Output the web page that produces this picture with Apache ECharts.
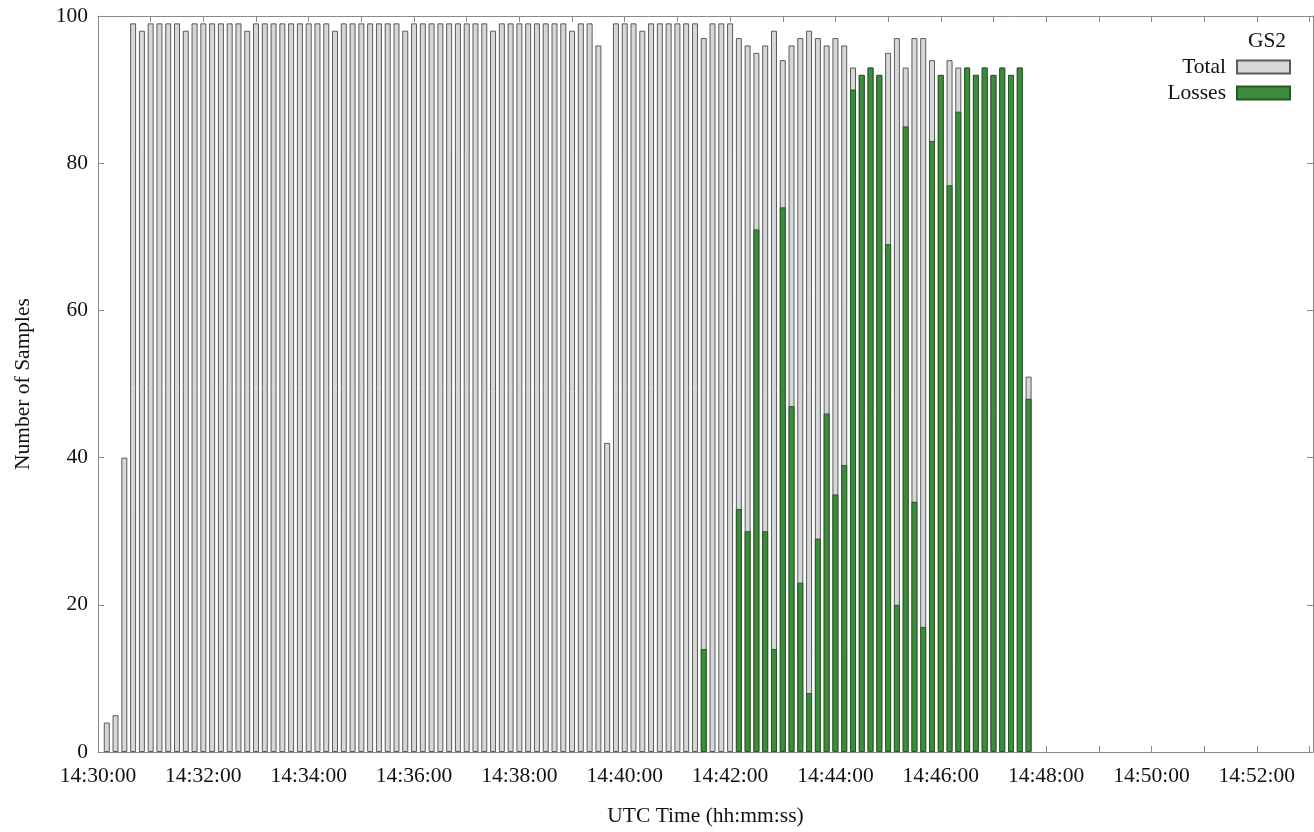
<!DOCTYPE html>
<html>
<head>
<meta charset="utf-8">
<script src="https://cdn.jsdelivr.net/npm/echarts@6/dist/echarts.min.js"></script>
<style>
  html, body { margin: 0; padding: 0; background: #ffffff; }
  #chart { width: 1314px; height: 832px; }
</style>
</head>
<body>
<div id="chart"></div>
<script>
// ---- Data ----
const times = [
  '14:30:10','14:30:20','14:30:30','14:30:40','14:30:50',
  '14:31:00','14:31:10','14:31:20','14:31:30','14:31:40','14:31:50',
  '14:32:00','14:32:10','14:32:20','14:32:30','14:32:40','14:32:50',
  '14:33:00','14:33:10','14:33:20','14:33:30','14:33:40','14:33:50',
  '14:34:00','14:34:10','14:34:20','14:34:30','14:34:40','14:34:50',
  '14:35:00','14:35:10','14:35:20','14:35:30','14:35:40','14:35:50',
  '14:36:00','14:36:10','14:36:20','14:36:30','14:36:40','14:36:50',
  '14:37:00','14:37:10','14:37:20','14:37:30','14:37:40','14:37:50',
  '14:38:00','14:38:10','14:38:20','14:38:30','14:38:40','14:38:50',
  '14:39:00','14:39:10','14:39:20','14:39:30','14:39:40','14:39:50',
  '14:40:00','14:40:10','14:40:20','14:40:30','14:40:40','14:40:50',
  '14:41:00','14:41:10','14:41:20','14:41:30','14:41:40','14:41:50',
  '14:42:00','14:42:10','14:42:20','14:42:30','14:42:40','14:42:50',
  '14:43:00','14:43:10','14:43:20','14:43:30','14:43:40','14:43:50',
  '14:44:00','14:44:10','14:44:20','14:44:30','14:44:40','14:44:50',
  '14:45:00','14:45:10','14:45:20','14:45:30','14:45:40','14:45:50',
  '14:46:00','14:46:10','14:46:20','14:46:30','14:46:40','14:46:50',
  '14:47:00','14:47:10','14:47:20','14:47:30','14:47:40'
];

const totalSamples = [
  4, 5, 40, 99, 98, 99, 99, 99, 99, 98,
  99, 99, 99, 99, 99, 99, 98, 99, 99, 99,
  99, 99, 99, 99, 99, 99, 98, 99, 99, 99,
  99, 99, 99, 99, 98, 99, 99, 99, 99, 99,
  99, 99, 99, 99, 98, 99, 99, 99, 99, 99,
  99, 99, 99, 98, 99, 99, 96, 42, 99, 99,
  99, 98, 99, 99, 99, 99, 99, 99, 97, 99,
  99, 99, 97, 96, 95, 96, 98, 94, 96, 97,
  98, 97, 96, 97, 96, 93, 92, 93, 92, 95,
  97, 93, 97, 97, 94, 92, 94, 93, 93, 92,
  93, 92, 93, 92, 93, 51
];

const lossSamples = [
  0, 0, 0, 0, 0, 0, 0, 0, 0, 0,
  0, 0, 0, 0, 0, 0, 0, 0, 0, 0,
  0, 0, 0, 0, 0, 0, 0, 0, 0, 0,
  0, 0, 0, 0, 0, 0, 0, 0, 0, 0,
  0, 0, 0, 0, 0, 0, 0, 0, 0, 0,
  0, 0, 0, 0, 0, 0, 0, 0, 0, 0,
  0, 0, 0, 0, 0, 0, 0, 0, 14, 0,
  0, 0, 33, 30, 71, 30, 14, 74, 47, 23,
  8, 29, 46, 35, 39, 90, 92, 93, 92, 69,
  20, 85, 34, 17, 83, 92, 77, 87, 93, 92,
  93, 92, 93, 92, 93, 48
];

const axisStart = '14:30:00';
const axisEnd = '14:53:04';
const yTicks = [0, 20, 40, 60, 80, 100];

// ---- Helpers ----
function toSec(t) {
  const p = t.split(':').map(Number);
  return p[0] * 3600 + p[1] * 60 + p[2];
}
const t0 = toSec(axisStart);
function toHMS(s) {
  const abs = t0 + s;
  const h = Math.floor(abs / 3600), m = Math.floor((abs % 3600) / 60), sec = abs % 60;
  const pad = n => String(n).padStart(2, '0');
  return pad(h) + ':' + pad(m) + ':' + pad(sec);
}

const totalData = times.map((t, i) => [toSec(t) - t0, totalSamples[i]]);
const lossData = times.map((t, i) => [toSec(t) - t0, lossSamples[i] > 0 ? lossSamples[i] : null]);

const FONT = "'Liberation Serif', 'DejaVu Serif', serif";
const FS = 21.5;
const FRAME = '#8a8a8a';
const xMax = toSec(axisEnd) - t0;

const chart = echarts.init(document.getElementById('chart'));
chart.setOption({
  animation: false,
  backgroundColor: '#ffffff',
  textStyle: { fontFamily: FONT, color: '#111' },
  grid: { left: 98, right: 1, top: 16, bottom: 80, containLabel: false },
  title: {
    text: 'GS2',
    left: 1262, top: 25, textAlign: 'center',
    textStyle: { fontFamily: FONT, fontSize: FS, fontWeight: 'normal', color: '#111' }
  },
  legend: {
    orient: 'vertical',
    right: 18, top: 51,
    align: 'right',
    itemWidth: 53, itemHeight: 13, itemGap: 4,
    icon: 'rect',
    textStyle: { fontFamily: FONT, fontSize: FS, color: '#111', width: 90, align: 'right', lineHeight: 22, padding: [0, 6, 0, 0] },
    data: ['Total', 'Losses']
  },
  xAxis: [
    {
      type: 'value', min: 0, max: xMax, interval: 60,
      name: 'UTC Time (hh:mm:ss)', nameLocation: 'middle', nameGap: 53,
      nameTextStyle: { fontFamily: FONT, fontSize: FS, color: '#111' },
      axisLine: { show: true, onZero: false, lineStyle: { color: FRAME, width: 1 } },
      axisTick: { show: true, inside: true, length: 6, lineStyle: { color: FRAME } },
      axisLabel: {
        fontFamily: FONT, fontSize: FS, color: '#111', margin: 13,
        showMaxLabel: false,
        formatter: v => (v % 120 === 0 ? toHMS(v) : '')
      },
      splitLine: { show: false }
    },
    {
      type: 'value', position: 'top', min: 0, max: xMax, interval: 60,
      axisLine: { show: true, onZero: false, lineStyle: { color: FRAME, width: 1 } },
      axisTick: { show: true, inside: true, length: 6, lineStyle: { color: FRAME } },
      axisLabel: { show: false },
      splitLine: { show: false }
    }
  ],
  yAxis: [
    {
      type: 'value', min: yTicks[0], max: yTicks[yTicks.length - 1], interval: 20,
      name: 'Number of Samples', nameLocation: 'middle', nameGap: 64, nameRotate: 90,
      nameTextStyle: { fontFamily: FONT, fontSize: FS, color: '#111' },
      axisLine: { show: true, onZero: false, lineStyle: { color: FRAME, width: 1 } },
      axisTick: { show: true, inside: true, length: 6, lineStyle: { color: FRAME } },
      axisLabel: { fontFamily: FONT, fontSize: FS, color: '#111', margin: 10 },
      splitLine: { show: false }
    },
    {
      type: 'value', position: 'right', min: 0, max: 100, interval: 20,
      axisLine: { show: true, onZero: false, lineStyle: { color: FRAME, width: 1 } },
      axisTick: { show: true, inside: true, length: 6, lineStyle: { color: FRAME } },
      axisLabel: { show: false },
      splitLine: { show: false }
    }
  ],
  series: [
    {
      name: 'Total', type: 'bar', xAxisIndex: 0, yAxisIndex: 0,
      data: totalData, barWidth: 6, barGap: '-100%',
      itemStyle: { color: '#d6d8d8', borderColor: '#5a5a5a', borderWidth: 1 }
    },
    {
      name: 'Losses', type: 'bar', xAxisIndex: 0, yAxisIndex: 0,
      data: lossData, barWidth: 6, barGap: '-100%',
      itemStyle: { color: '#3c8c3c', borderColor: '#245a24', borderWidth: 1 }
    }
  ]
});
</script>
</body>
</html>
